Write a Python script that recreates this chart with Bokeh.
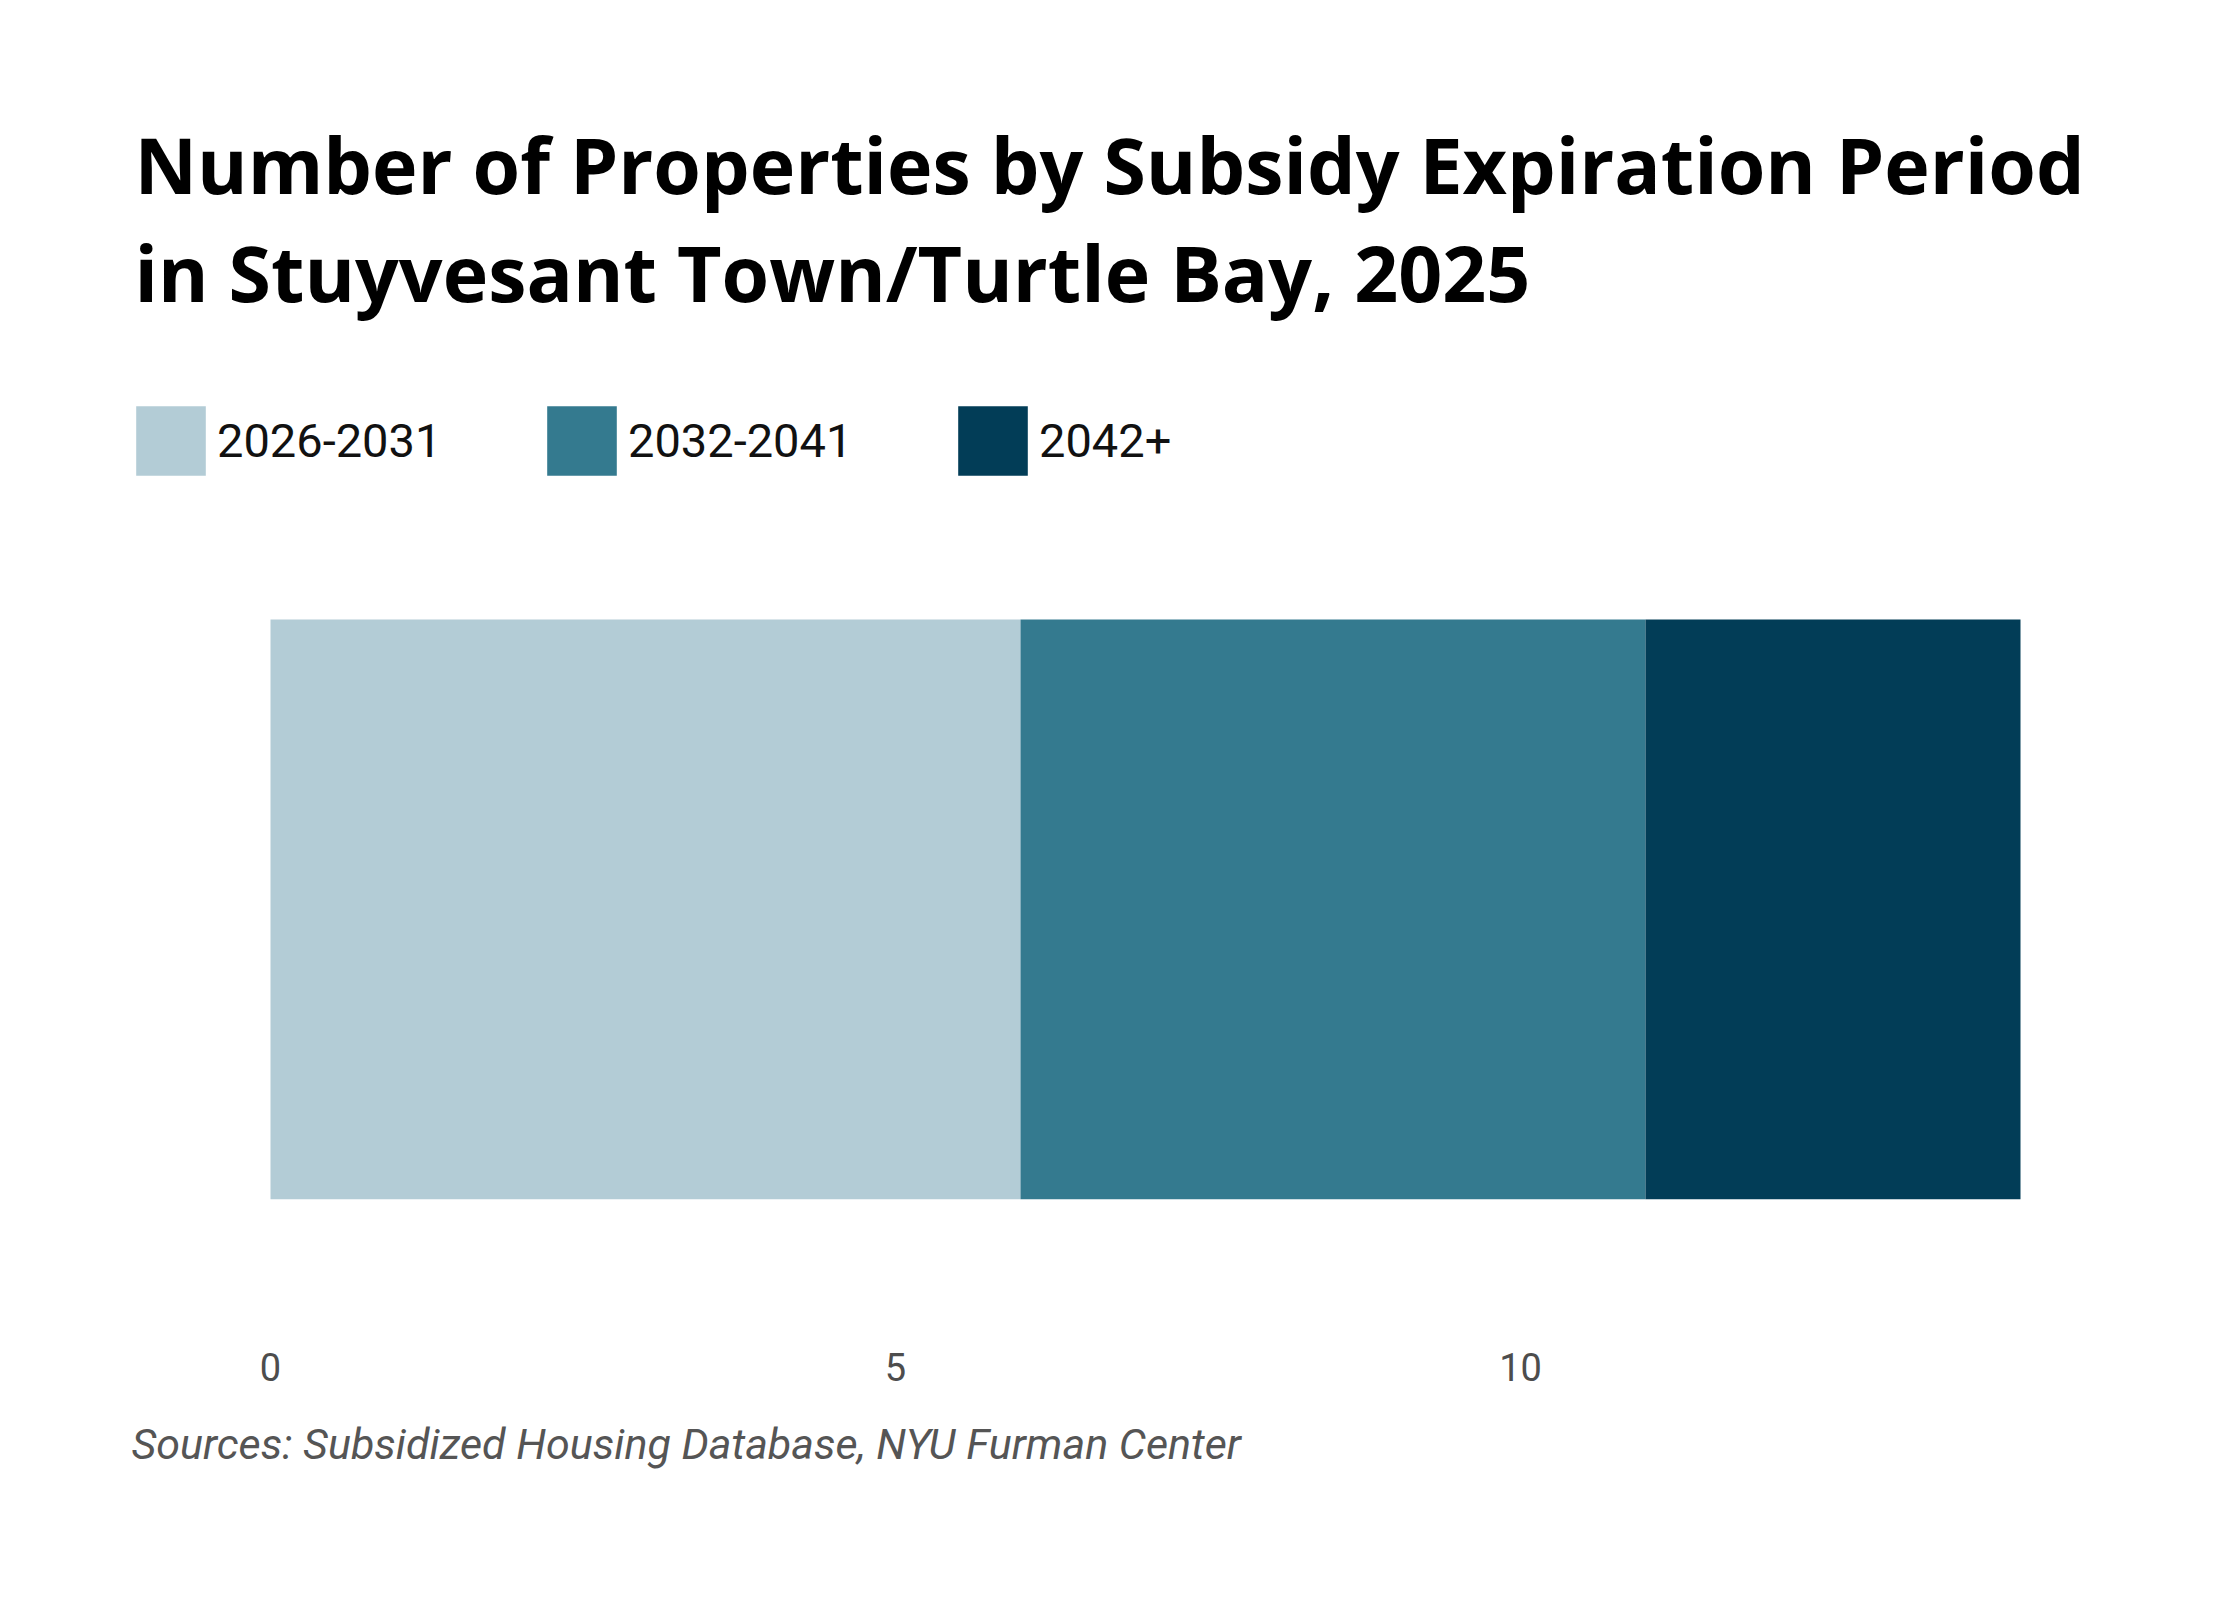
from bokeh.plotting import figure
from bokeh.models import ColumnDataSource, Range1d, FixedTicker, Label, Legend, Title
from bokeh.embed import file_html
from bokeh.resources import INLINE

# ---- data ----
periods = ["2026-2031", "2032-2041", "2042+"]
counts = [6, 5, 3]
colors = ["#b3ccd6", "#347a8f", "#023d57"]
tick_values = [0, 5, 10]
title_lines = ["Number of Properties by Subsidy Expiration Period",
               "in Stuyvesant Town/Turtle Bay, 2025"]
source_text = "Sources: Subsidized Housing Database, NYU Furman Center"

data = {"row": [0.5]}
for name, c in zip(periods, counts):
    data[name] = [c]
source = ColumnDataSource(data)

# ---- layout (pixels) ----
W, H = 2224, 1584
bar_left_px, bar_right_px = 270, 2020
bar_top_px, frame_bottom_px = 619, 1199
total = sum(counts)
px_per_unit = (bar_right_px - bar_left_px) / total
x_start = -bar_left_px / px_per_unit
x_end = total + (W - bar_right_px) / px_per_unit
y_end = frame_bottom_px / (frame_bottom_px - bar_top_px)

p = figure(width=W, height=H, output_backend="svg", toolbar_location=None,
           x_range=Range1d(x_start, x_end), y_range=Range1d(0, y_end),
           min_border_left=0, min_border_right=0,
           min_border_top=0, min_border_bottom=H - frame_bottom_px,
           y_axis_location=None)
p.outline_line_color = None
p.xgrid.visible = False
p.ygrid.visible = False
p.background_fill_color = "white"
p.border_fill_color = "white"

renderers = p.hbar_stack(periods, y="row", height=1, color=colors,
                         line_color=None, source=source)

ax = p.xaxis[0]
ax.ticker = FixedTicker(ticks=tick_values)
ax.axis_line_color = None
ax.major_tick_line_color = None
ax.minor_tick_line_color = None
ax.major_label_standoff = 147
ax.major_label_text_font = "Roboto"
ax.major_label_text_font_size = "38px"
ax.major_label_text_color = "#4d4d4d"

legend = Legend(items=[(name, [r]) for name, r in zip(periods, renderers)],
                orientation="horizontal", location=(127, 715),
                glyph_width=87, glyph_height=87, label_standoff=3,
                label_width=321, spacing=0, padding=0, margin=0,
                border_line_color=None, background_fill_alpha=0,
                label_text_font="Roboto", label_text_font_size="47px",
                label_text_color="#111111", label_height=87)
p.add_layout(legend, "center")

for i, yb in enumerate([1035, 927]):
    p.add_layout(Label(x=134, y=yb, x_units="screen", y_units="screen",
                       text=title_lines[i], text_font="Open Sans", text_font_style="bold",
                       text_font_size="77px", text_color="#000000",
                       text_baseline="alphabetic"))

p.add_layout(Title(text=source_text, align="left", offset=131, standoff=67,
                   text_font="Roboto", text_font_style="italic",
                   text_font_size="43px", text_color="#555555"), "below")

open("out.html", "w").write(file_html(p, INLINE))
